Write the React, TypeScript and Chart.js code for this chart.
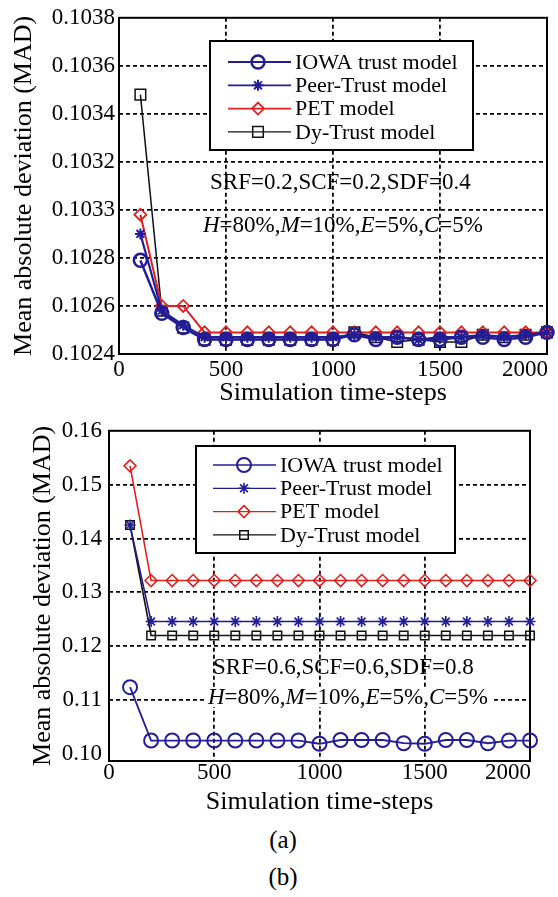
import React, { useEffect, useRef } from 'react';
import { Chart, registerables } from 'chart.js';

Chart.register(...registerables);

const FONT = "'Liberation Serif', 'Times New Roman', Times, serif";

// ---------- shared data ----------
const steps = [100, 200, 300, 400, 500, 600, 700, 800, 900, 1000, 1100, 1200, 1300, 1400, 1500, 1600, 1700, 1800, 1900, 2000];
const xTickValues = [0, 500, 1000, 1500, 2000];
const xTickLabels = ['0', '500', '1000', '1500', '2000'];
const seriesNames = ['IOWA trust model', 'Peer-Trust model', 'PET model', 'Dy-Trust model'];
const xTitle = 'Simulation time-steps';
const yTitle = 'Mean absolute deviation (MAD)';

// ---------- top chart data ----------
const topIOWA = [0.10279, 0.10257, 0.10251, 0.10246, 0.10246, 0.10246, 0.10246, 0.10246, 0.10246, 0.10246, 0.10248, 0.10246, 0.10247, 0.10246, 0.10246, 0.10247, 0.10247, 0.10246, 0.10247, 0.10249];
const topPeer = [0.1029, 0.10258, 0.10252, 0.10247, 0.10247, 0.10247, 0.10247, 0.10247, 0.10247, 0.10247, 0.10248, 0.10247, 0.10247, 0.10246, 0.10247, 0.10247, 0.10248, 0.10247, 0.10248, 0.10249];
const topPET = [0.10298, 0.1026, 0.1026, 0.10249, 0.10249, 0.10249, 0.10249, 0.10249, 0.10249, 0.10249, 0.10249, 0.10249, 0.10249, 0.10249, 0.10249, 0.10249, 0.10249, 0.10249, 0.10249, 0.10249];
const topDy = [0.10348, 0.10258, 0.10251, 0.10246, 0.10246, 0.10246, 0.10246, 0.10246, 0.10246, 0.10246, 0.10249, 0.10247, 0.10245, 0.10246, 0.10245, 0.10245, 0.10248, 0.10247, 0.10248, 0.10249];
const topYTicks = [0.1024, 0.1026, 0.1028, 0.103, 0.1032, 0.1034, 0.1036, 0.1038];
const topYTickLabels = ['0.1024', '0.1026', '0.1028', '0.1033', '0.1032', '0.1034', '0.1036', '0.1038'];
const topParams = 'SRF=0.2,SCF=0.2,SDF=0.4';

// ---------- bottom chart data ----------
const botIOWA = [0.1124, 0.1025, 0.1025, 0.1025, 0.1025, 0.1025, 0.1025, 0.1025, 0.1025, 0.1019, 0.1026, 0.1026, 0.1026, 0.102, 0.1019, 0.1026, 0.1026, 0.102, 0.1025, 0.1025];
const botPeer = [0.1425, 0.1246, 0.1246, 0.1246, 0.1246, 0.1246, 0.1246, 0.1246, 0.1246, 0.1246, 0.1246, 0.1246, 0.1246, 0.1246, 0.1246, 0.1246, 0.1246, 0.1246, 0.1246, 0.1246];
const botPET = [0.1535, 0.1322, 0.1322, 0.1322, 0.1322, 0.1322, 0.1322, 0.1322, 0.1322, 0.1322, 0.1322, 0.1322, 0.1322, 0.1322, 0.1322, 0.1322, 0.1322, 0.1322, 0.1322, 0.1322];
const botDy = [0.1425, 0.122, 0.122, 0.122, 0.122, 0.122, 0.122, 0.122, 0.122, 0.122, 0.122, 0.122, 0.122, 0.122, 0.122, 0.122, 0.122, 0.122, 0.122, 0.122];
const botYTicks = [0.1, 0.11, 0.12, 0.13, 0.14, 0.15, 0.16];
const botYTickLabels = ['0.10', '0.11', '0.12', '0.13', '0.14', '0.15', '0.16'];
const botParams = 'SRF=0.6,SCF=0.6,SDF=0.8';

// mixed italic / upright text: [text, italic]
const mixLine: [string, boolean][] = [
  ['H', true], ['=80%,', false], ['M', true], ['=10%,', false],
  ['E', true], ['=5%,', false], ['C', true], ['=5%', false],
];

const BLUE = '#221d96';
const RED = '#e0201e';
const BLACK = '#111111';

function drawMarker(ctx: CanvasRenderingContext2D, style: string, x: number, y: number, r: number) {
  ctx.beginPath();
  if (style === 'circle') {
    ctx.arc(x, y, r, 0, Math.PI * 2);
  } else if (style === 'rect') {
    const s = r * Math.SQRT1_2;
    ctx.rect(x - s, y - s, 2 * s, 2 * s);
  } else if (style === 'rectRot') {
    ctx.moveTo(x, y - r);
    ctx.lineTo(x + r, y);
    ctx.lineTo(x, y + r);
    ctx.lineTo(x - r, y);
    ctx.closePath();
  } else if (style === 'star') {
    ctx.moveTo(x - r, y); ctx.lineTo(x + r, y);
    ctx.moveTo(x, y - r); ctx.lineTo(x, y + r);
    const d = r * Math.SQRT1_2;
    ctx.moveTo(x - d, y - d); ctx.lineTo(x + d, y + d);
    ctx.moveTo(x - d, y + d); ctx.lineTo(x + d, y - d);
  }
  ctx.stroke();
}

function drawMixed(ctx: CanvasRenderingContext2D, segs: [string, boolean][], x: number, y: number, size: number, bg: boolean) {
  let w = 0;
  for (const [t, it] of segs) {
    ctx.font = `${it ? 'italic ' : ''}${size}px ${FONT}`;
    w += ctx.measureText(t).width;
  }
  if (bg) {
    ctx.fillStyle = '#fff';
    ctx.fillRect(x - 3, y - 9, w + 6, 18);
  }
  ctx.fillStyle = '#000';
  ctx.textBaseline = 'middle';
  ctx.textAlign = 'left';
  let cx = x;
  for (const [t, it] of segs) {
    ctx.font = `${it ? 'italic ' : ''}${size}px ${FONT}`;
    ctx.fillText(t, cx, y);
    cx += ctx.measureText(t).width;
  }
}

interface Layout {
  top: number; right: number; yAxisW: number; xAxisH: number;
  yTickPad: number; xTickPad: number; yTitlePad: number; xTitlePad: number;
  yMin: number; yMax: number; yTicks: number[]; yLabels: string[]; ySkipGrid: number[];
  legend: { x: number; y: number; w: number; h: number; row0: number; rowStep: number; l1: number; l2: number; mx: number; tx: number };
  params: { x: number; y: number };
  mix: { x: number; y: number; bg: boolean };
  paramText: string;
  lw: number[]; pr: number[]; pw: number[];
}

function buildChart(canvas: HTMLCanvasElement, series: number[][], L: Layout) {
  const colors = [BLUE, BLUE, RED, BLACK];
  const styles = ['circle', 'star', 'rectRot', 'rect'];
  const datasets = series.map((vals, i) => ({
    label: seriesNames[i],
    data: steps.map((s, j) => ({ x: s, y: vals[j] })),
    borderColor: colors[i],
    backgroundColor: 'rgba(0,0,0,0)',
    pointBorderColor: colors[i],
    pointBackgroundColor: 'rgba(0,0,0,0)',
    pointStyle: styles[i],
    pointRadius: L.pr[i],
    pointBorderWidth: L.pw[i],
    borderWidth: L.lw[i],
    tension: 0,
    fill: false,
    clip: false as any,
  }));

  const tickFont = { family: FONT, size: 23 };
  const titleFont = { family: FONT, size: 26 };

  const overlay = {
    id: 'overlay',
    beforeDatasetsDraw(chart: any) {
      const { ctx, chartArea: a } = chart;
      ctx.save();
      ctx.strokeStyle = '#000';
      ctx.lineWidth = 2;
      ctx.strokeRect(a.left, a.top, a.right - a.left, a.bottom - a.top);
      ctx.restore();
    },
    afterDatasetsDraw(chart: any) {
      const { ctx, chartArea: a } = chart;
      ctx.save();
      // legend
      const lg = L.legend;
      ctx.fillStyle = '#fff';
      ctx.fillRect(lg.x, lg.y, lg.w, lg.h);
      ctx.strokeStyle = '#000';
      ctx.lineWidth = 2;
      ctx.strokeRect(lg.x, lg.y, lg.w, lg.h);
      chart.data.datasets.forEach((ds: any, i: number) => {
        const y = lg.row0 + i * lg.rowStep;
        ctx.strokeStyle = ds.borderColor;
        ctx.lineWidth = Math.max(1.2, ds.borderWidth * 0.8);
        ctx.beginPath();
        ctx.moveTo(lg.l1, y);
        ctx.lineTo(lg.l2, y);
        ctx.stroke();
        ctx.lineWidth = ds.pointBorderWidth;
        drawMarker(ctx, ds.pointStyle, lg.mx, y, ds.pointRadius);
        ctx.fillStyle = '#000';
        ctx.font = `22px ${FONT}`;
        ctx.textAlign = 'left';
        ctx.textBaseline = 'middle';
        ctx.fillText(ds.label, lg.tx, y + 1);
      });
      // parameter annotations
      ctx.fillStyle = '#000';
      ctx.font = `23px ${FONT}`;
      ctx.textAlign = 'left';
      ctx.textBaseline = 'middle';
      ctx.fillText(L.paramText, L.params.x, L.params.y);
      drawMixed(ctx, mixLine, L.mix.x, L.mix.y, 23, L.mix.bg);
      // last x tick label, right-aligned to plot edge
      const xs = chart.scales.x;
      const lastIdx = xTickValues.length - 1;
      ctx.font = `23px ${FONT}`;
      ctx.textAlign = 'right';
      ctx.textBaseline = 'middle';
      ctx.fillStyle = '#000';
      ctx.fillText(xTickLabels[lastIdx], Math.min(xs.getPixelForValue(xTickValues[lastIdx]), a.right) + 1, xs.top + L.xTickPad + 23 * 1.2 / 2);
      ctx.restore();
    },
  };

  return new Chart(canvas, {
    type: 'line',
    data: { datasets },
    plugins: [overlay],
    options: {
      responsive: false,
      animation: false,
      devicePixelRatio: 1,
      layout: { padding: { left: 0, top: L.top, right: L.right, bottom: 0 } },
      plugins: { legend: { display: false }, tooltip: { enabled: false } },
      scales: {
        x: {
          type: 'linear',
          min: 0,
          max: 2000,
          afterBuildTicks: (s: any) => { s.ticks = xTickValues.map((v) => ({ value: v })); },
          afterFit: (s: any) => { s.height = L.xAxisH; },
          ticks: {
            font: tickFont, color: '#000', padding: L.xTickPad, maxRotation: 0, autoSkip: false,
            callback: (_v: any, i: number) => (i === xTickLabels.length - 1 ? '' : xTickLabels[i]),
          },
          grid: {
            drawTicks: false,
            lineWidth: 1.8,
            color: (c: any) => (c.tick && (c.tick.value === 0 || c.tick.value === 2000) ? 'rgba(0,0,0,0)' : '#000'),
          },
          border: { display: false, dash: [4, 3] },
          title: { display: true, text: xTitle, font: titleFont, color: '#000', padding: { top: 0, bottom: L.xTitlePad } },
        },
        y: {
          type: 'linear',
          min: L.yMin,
          max: L.yMax,
          afterBuildTicks: (s: any) => { s.ticks = L.yTicks.map((v) => ({ value: v })); },
          afterFit: (s: any) => { s.width = L.yAxisW; },
          ticks: {
            font: tickFont, color: '#000', padding: L.yTickPad, autoSkip: false,
            callback: (_v: any, i: number) => L.yLabels[i],
          },
          grid: {
            drawTicks: false,
            lineWidth: 1.8,
            color: (c: any) => (c.tick && L.ySkipGrid.includes(c.tick.value) ? 'rgba(0,0,0,0)' : '#000'),
          },
          border: { display: false, dash: [4, 3] },
          title: { display: true, text: yTitle, font: titleFont, color: '#000', padding: { top: L.yTitlePad, bottom: 0 } },
        },
      },
    } as any,
  });
}

const topLayout: Layout = {
  top: 14, right: 11, yAxisW: 119, xAxisH: 56,
  yTickPad: 4, xTickPad: 2, yTitlePad: 9, xTitlePad: 1,
  yMin: 0.1024, yMax: 0.1038, yTicks: topYTicks, yLabels: topYTickLabels, ySkipGrid: [0.1024, 0.1038],
  legend: { x: 210, y: 41, w: 263, h: 109, row0: 62, rowStep: 23.3, l1: 228, l2: 291, mx: 258, tx: 295 },
  params: { x: 210, y: 183 },
  mix: { x: 203, y: 226, bg: false },
  paramText: topParams,
  lw: [2.5, 2.2, 2, 1.5], pr: [6.5, 5.5, 6, 7.5], pw: [2.5, 2, 1.8, 1.5],
};

const botLayout: Layout = {
  top: 15, right: 28, yAxisW: 109, xAxisH: 59,
  yTickPad: 7, xTickPad: -2, yTitlePad: 28, xTitlePad: 2,
  yMin: 0.0987, yMax: 0.16, yTicks: botYTicks, yLabels: botYTickLabels, ySkipGrid: [0.1, 0.16],
  legend: { x: 196, y: 36, w: 259, h: 107, row0: 55, rowStep: 23.3, l1: 213, l2: 276, mx: 244, tx: 280 },
  params: { x: 213, y: 258 },
  mix: { x: 208, y: 288, bg: true },
  paramText: botParams,
  lw: [1.8, 1.6, 1.6, 1.6], pr: [7, 5.5, 6, 6], pw: [2, 1.6, 1.6, 1.5],
};

export default function App() {
  const topRef = useRef<HTMLCanvasElement>(null);
  const botRef = useRef<HTMLCanvasElement>(null);

  useEffect(() => {
    document.body.style.margin = '0';
    const c1 = buildChart(topRef.current!, [topIOWA, topPeer, topPET, topDy], topLayout);
    const c2 = buildChart(botRef.current!, [botIOWA, botPeer, botPET, botDy], botLayout);
    return () => { c1.destroy(); c2.destroy(); };
  }, []);

  const capStyle: React.CSSProperties = {
    position: 'absolute', left: 233, width: 100, textAlign: 'center',
    fontFamily: FONT, fontSize: 25, lineHeight: '30px', color: '#000',
  };

  return (
    <div style={{ position: 'relative', width: 558, height: 897, background: '#fff', overflow: 'hidden' }}>
      <canvas ref={topRef} width={558} height={410} style={{ position: 'absolute', left: 0, top: 0 }} />
      <canvas ref={botRef} width={558} height={410} style={{ position: 'absolute', left: 0, top: 410 }} />
      <div style={{ ...capStyle, top: 825 }}>(a)</div>
      <div style={{ ...capStyle, top: 862 }}>(b)</div>
    </div>
  );
}
